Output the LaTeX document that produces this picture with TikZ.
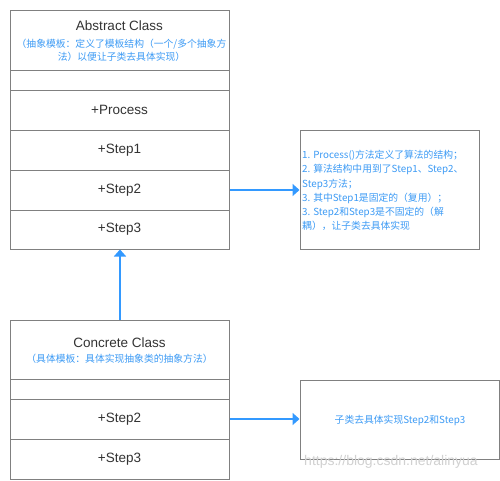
\documentclass[tikz,border=0pt]{standalone}
\usepackage{fontspec}
\setmainfont{Liberation Sans}
\newfontfamily\cjk{Noto Sans CJK SC}
\usetikzlibrary{arrows.meta}
\definecolor{bord}{HTML}{808080}
\definecolor{blu}{HTML}{3399FF}
\definecolor{btxt}{HTML}{3D9BF5}
\definecolor{dtxt}{HTML}{333333}
\begin{document}
\begin{tikzpicture}[x=1pt,y=-1pt,
 cell/.style={draw=bord,line width=1pt,minimum width=219pt,inner sep=0pt,font=\fontsize{13.5}{15}\selectfont,text=dtxt},
 title/.style={font=\fontsize{13.5}{15}\selectfont,text=dtxt,inner sep=0pt},
 desc/.style={font=\cjk\fontsize{9.8}{13}\selectfont,text=btxt,align=center,inner sep=0pt},
 notebox/.style={draw=bord,line width=1pt,inner sep=0pt},
 notetext/.style={font=\cjk\fontsize{9.8}{14.2}\selectfont,text=btxt,inner sep=0pt},
 link/.style={draw=blu,line width=2pt,-{Triangle[length=7pt,width=12pt]}}]
\useasboundingbox (0,0) rectangle (500,480);
\fill[white] (0,0) rectangle (500,480);

% Abstract class
\node[cell,minimum height=60pt] (ah) at (119.5,40) {};
\node[title] (at) at (119.5,26) {Abstract Class};
\node[desc] (ad) at (121.5,50) {（抽象模板：定义了模板结构（一个/多个抽象方\\法）以便让子类去具体实现）};
\node[cell,minimum height=20pt] (ae) at (119.5,80) {};
\node[cell,minimum height=40pt] (ap) at (119.5,110) {+Process};
\node[cell,minimum height=40pt] (as1) at (119.5,150) {+Step1};
\node[cell,minimum height=40pt] (as2) at (119.5,190) {+Step2};
\node[cell,minimum height=39pt] (as3) at (119.5,229.5) {+Step3};

% Concrete class
\node[cell,minimum height=59pt] (ch) at (119.5,349.5) {};
\node[title] (ct) at (119.5,343) {Concrete Class};
\node[desc] (cd) at (119.5,359) {（具体模板：具体实现抽象类的抽象方法）};
\node[cell,minimum height=20pt] (ce) at (119.5,389) {};
\node[cell,minimum height=40pt] (cs2) at (119.5,419) {+Step2};
\node[cell,minimum height=40pt] (cs3) at (119.5,459) {+Step3};

% Notes
\node[notebox,minimum width=179pt,minimum height=119pt] (n1) at (389.5,189.5) {};
\node[notetext,anchor=west,align=left] (n1t) at (302,190.5) {1. Process()方法定义了算法的结构；\\2. 算法结构中用到了Step1、Step2、\\Step3方法；\\3. 其中Step1是固定的（复用）；\\3. Step2和Step3是不固定的（解\\耦），让子类去具体实现};

\node[notebox,minimum width=199pt,minimum height=79pt] (n2) at (399.5,419.5) {};
\node[notetext] (n2t) at (400,420) {子类去具体实现Step2和Step3};

% watermark
\node[font=\fontsize{14}{16}\selectfont,text=black!18,inner sep=0pt] (wm) at (391,462) {https://blog.csdn.net/alinyua};

% connectors
\coordinate (up) at ([xshift=0.5pt]ch.north);
\draw[link] (up) -- (up |- as3.south);
\draw[link] (as2.east) -- (n1.west |- as2.east);
\draw[link] (cs2.east) -- (n2.west |- cs2.east);
\end{tikzpicture}
\end{document}
